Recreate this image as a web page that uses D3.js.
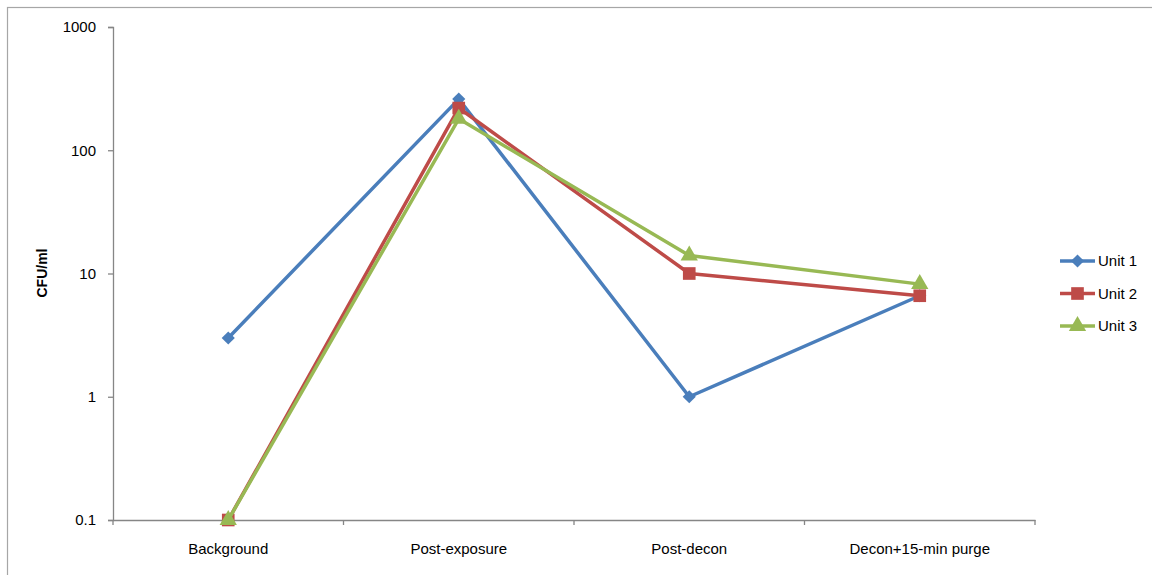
<!DOCTYPE html>
<html>
<head>
<meta charset="utf-8">
<script src="https://cdn.jsdelivr.net/npm/d3@7"></script>
<style>
  body { margin: 0; background: #fff; }
  svg text { font-family: "Liberation Sans", Arial, sans-serif; fill: #000; }
</style>
</head>
<body>
<div id="chart"></div>
<script>
// Chart data
const categories = ["Background", "Post-exposure", "Post-decon", "Decon+15-min purge"];
const unit1 = [3, 260, 1, 6.6];
const unit2 = [0.1, 220, 10, 6.6];
const unit3 = [0.1, 180, 14, 8.2];
const seriesNames = ["Unit 1", "Unit 2", "Unit 3"];
const yTicks = [0.1, 1, 10, 100, 1000];

const colors = ["#4A7EBB", "#BE4B48", "#98B954"];
const symbols = [d3.symbolDiamond2, d3.symbolSquare, d3.symbolTriangle];
const symbolSizes = [110, 160, 130];

const W = 1152, H = 575;
const margin = { top: 27, right: 117, bottom: 55, left: 113 };
const width = W - margin.left - margin.right;
const height = H - margin.top - margin.bottom;

const root = d3.select("#chart")
    .append("svg")
    .attr("width", W)
    .attr("height", H);

// Outer chart frame
root.append("rect")
    .attr("x", 7.5).attr("y", 7.5)
    .attr("width", W).attr("height", H)
    .attr("fill", "none")
    .attr("stroke", "#A6A6A6")
    .attr("stroke-width", 1.2);

const svg = root.append("g")
    .attr("transform", `translate(${margin.left},${margin.top})`);

// Scales
const x = d3.scaleBand()
    .domain(categories)
    .range([0, width]);

const y = d3.scaleLog()
    .domain([0.1, 1000])
    .range([height, 0]);

// Y axis
const yAxis = svg.append("g")
    .call(d3.axisLeft(y).tickValues(yTicks).tickFormat(d => String(d)).tickSize(5).tickPadding(12));
yAxis.select(".domain").attr("stroke", "#868686").attr("stroke-width", 1.3);
yAxis.selectAll(".tick line").attr("stroke", "#868686").attr("stroke-width", 1.3);
yAxis.selectAll("text").style("font-size", "15px");

// X axis with ticks at category boundaries
const xAxis = svg.append("g")
    .attr("transform", `translate(0,${height})`)
    .call(d3.axisBottom(x).tickSize(0).tickPadding(23));
xAxis.select(".domain").attr("stroke", "#868686").attr("stroke-width", 1.3);
xAxis.selectAll("text").style("font-size", "15px");
svg.append("g")
    .selectAll("line")
    .data(d3.range(categories.length + 1))
    .enter().append("line")
    .attr("x1", i => i * x.step()).attr("x2", i => i * x.step())
    .attr("y1", height).attr("y2", height + 5)
    .attr("stroke", "#868686").attr("stroke-width", 1.3);

// Y axis title
svg.append("text")
    .attr("transform", `translate(${42 - margin.left},${273 - margin.top}) rotate(-90)`)
    .attr("text-anchor", "middle")
    .attr("dy", "0.35em")
    .style("font-size", "14px").style("font-weight", "bold")
    .text("CFU/ml");

// Lines and markers
const allSeries = [unit1, unit2, unit3];
const line = d3.line()
    .x((d, i) => x(categories[i]) + x.bandwidth() / 2)
    .y(d => y(d));

allSeries.forEach((vals, s) => {
    svg.append("path")
        .datum(vals)
        .attr("fill", "none")
        .attr("stroke", colors[s])
        .attr("stroke-width", 3.5)
        .attr("stroke-linejoin", "round")
        .attr("d", line);

    svg.selectAll(".m" + s)
        .data(vals)
        .enter().append("path")
        .attr("class", "m" + s)
        .attr("transform", (d, i) => `translate(${x(categories[i]) + x.bandwidth() / 2},${y(d)})`)
        .attr("d", d3.symbol().type(symbols[s]).size(symbolSizes[s]))
        .attr("fill", colors[s]);
});

// Legend
const legend = root.append("g")
    .attr("transform", "translate(1060,261)");
seriesNames.forEach((name, s) => {
    const g = legend.append("g").attr("transform", `translate(0,${s * 32.5})`);
    g.append("line")
        .attr("x1", 0).attr("x2", 35)
        .attr("stroke", colors[s]).attr("stroke-width", 3.5);
    g.append("path")
        .attr("transform", "translate(17.5,0)")
        .attr("d", d3.symbol().type(symbols[s]).size(symbolSizes[s]))
        .attr("fill", colors[s]);
    g.append("text")
        .attr("x", 38).attr("dy", "0.35em")
        .style("font-size", "15px")
        .text(name);
});
</script>
</body>
</html>
